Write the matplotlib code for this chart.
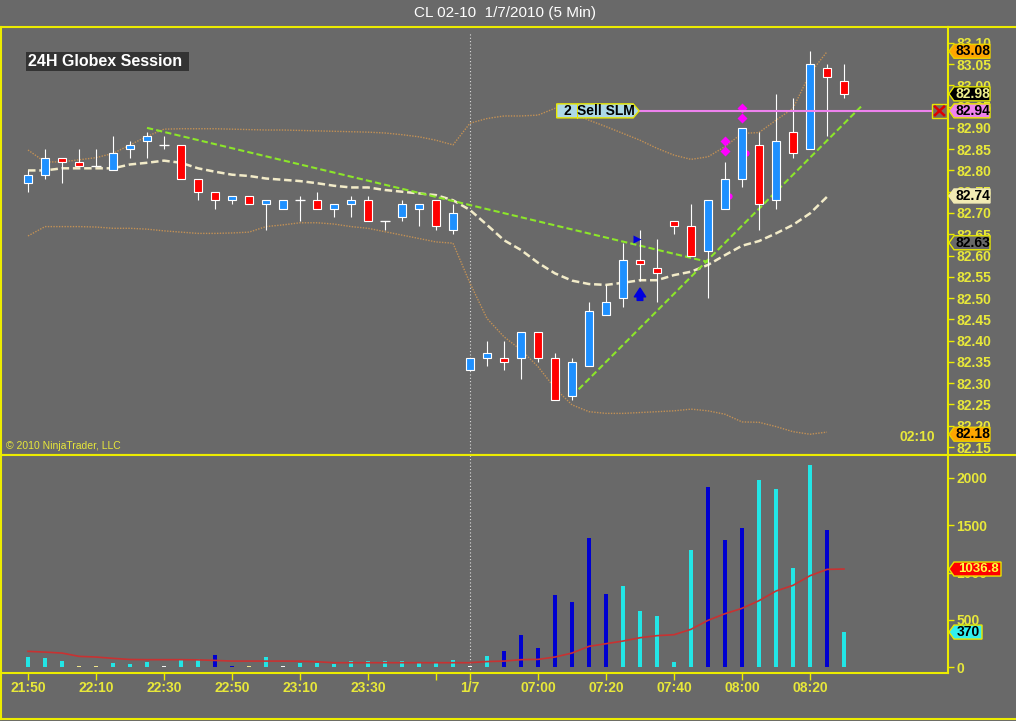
import numpy as np
import matplotlib
matplotlib.use('Agg')
import matplotlib.pyplot as plt
from matplotlib.patches import Polygon, Rectangle

plt.rcParams['font.family'] = ['Liberation Sans', 'DejaVu Sans']

# ---- data (5 min bars, CL 02-10) ----
open_ = [82.77, 82.79, 82.83, 82.82, 82.81, 82.80, 82.85, 82.87, 82.86, 82.86,
         82.78, 82.75, 82.73, 82.74, 82.72, 82.71, 82.73, 82.73, 82.71, 82.72,
         82.73, 82.68, 82.69, 82.71, 82.73, 82.66, 82.33, 82.36, 82.36, 82.36,
         82.42, 82.36, 82.27, 82.34, 82.46, 82.50, 82.59, 82.57, 82.68, 82.67,
         82.61, 82.71, 82.78, 82.86, 82.73, 82.89, 82.85, 83.04, 83.01]
high = [82.80, 82.85, 82.83, 82.85, 82.85, 82.88, 82.87, 82.89, 82.88, 82.86,
        82.78, 82.75, 82.74, 82.74, 82.73, 82.73, 82.74, 82.75, 82.72, 82.74,
        82.74, 82.68, 82.73, 82.72, 82.73, 82.72, 82.36, 82.40, 82.40, 82.42,
        82.42, 82.37, 82.36, 82.49, 82.53, 82.63, 82.66, 82.64, 82.68, 82.72,
        82.73, 82.82, 82.90, 82.89, 82.98, 82.97, 83.08, 83.05, 83.05]
low = [82.75, 82.78, 82.77, 82.81, 82.81, 82.80, 82.83, 82.83, 82.85, 82.78,
       82.73, 82.71, 82.72, 82.72, 82.66, 82.71, 82.68, 82.71, 82.69, 82.69,
       82.68, 82.66, 82.68, 82.67, 82.66, 82.65, 82.33, 82.34, 82.33, 82.31,
       82.35, 82.26, 82.26, 82.34, 82.46, 82.48, 82.54, 82.49, 82.65, 82.60,
       82.50, 82.71, 82.76, 82.66, 82.71, 82.83, 82.85, 82.88, 82.97]
close = [82.79, 82.83, 82.82, 82.81, 82.81, 82.84, 82.86, 82.88, 82.86, 82.78,
         82.75, 82.73, 82.74, 82.72, 82.73, 82.73, 82.73, 82.71, 82.72, 82.73,
         82.68, 82.68, 82.72, 82.72, 82.67, 82.70, 82.36, 82.37, 82.35, 82.42,
         82.36, 82.26, 82.35, 82.47, 82.49, 82.59, 82.58, 82.56, 82.67, 82.60,
         82.73, 82.78, 82.90, 82.72, 82.87, 82.84, 83.05, 83.02, 82.98]

sma = [82.800, 82.800, 82.805, 82.805, 82.805, 82.805, 82.814, 82.818, 82.823, 82.818,
       82.805, 82.797, 82.790, 82.787, 82.781, 82.778, 82.775, 82.770, 82.764, 82.760,
       82.760, 82.754, 82.750, 82.746, 82.742, 82.730, 82.707, 82.672, 82.636, 82.613,
       82.583, 82.558, 82.541, 82.533, 82.531, 82.536, 82.542, 82.542, 82.554, 82.562,
       82.578, 82.601, 82.623, 82.634, 82.652, 82.672, 82.699, 82.738]
upper_band = [82.848, 82.820, 82.820, 82.825, 82.830, 82.840, 82.860, 82.880, 82.897, 82.898,
              82.898, 82.898, 82.897, 82.896, 82.895, 82.895, 82.894, 82.893, 82.892, 82.891,
              82.890, 82.888, 82.884, 82.879, 82.871, 82.860, 82.911, 82.922, 82.928, 82.928,
              82.930, 82.946, 82.935, 82.918, 82.903, 82.887, 82.871, 82.852, 82.836, 82.826,
              82.832, 82.856, 82.887, 82.889, 82.918, 82.946, 83.028, 83.079]
lower_band = [82.646, 82.668, 82.668, 82.668, 82.667, 82.664, 82.664, 82.662, 82.658, 82.655,
              82.652, 82.652, 82.653, 82.655, 82.668, 82.672, 82.677, 82.677, 82.674, 82.668,
              82.664, 82.656, 82.648, 82.640, 82.632, 82.629, 82.535, 82.452, 82.409, 82.378,
              82.339, 82.288, 82.249, 82.233, 82.229, 82.229, 82.231, 82.233, 82.235, 82.239,
              82.235, 82.227, 82.209, 82.208, 82.198, 82.186, 82.180, 82.185]

volume = [102, 92, 63, 15, 15, 42, 32, 49, 12, 81,
          81, 123, 15, 15, 109, 10, 42, 42, 32, 63,
          63, 63, 63, 42, 49, 74, 15, 115, 173, 342,
          201, 765, 684, 1361, 772, 861, 596, 543, 49, 1234,
          1901, 1340, 1474, 1982, 1880, 1044, 2134, 1453, 370]
vol_kind = ['C', 'C', 'C', 'Y', 'Y', 'C', 'C', 'C', 'W', 'C',
            'C', 'B', 'B', 'Y', 'C', 'W', 'C', 'C', 'C', 'C',
            'C', 'C', 'C', 'C', 'C', 'C', 'W', 'C', 'B', 'B',
            'B', 'B', 'B', 'B', 'B', 'C', 'C', 'C', 'C', 'C',
            'B', 'B', 'B', 'C', 'C', 'C', 'C', 'B', 'C']
vol_sma = [166, 158, 148, 113, 106, 92, 80, 78, 78, 78,
           76, 70, 63, 63, 63, 63, 62, 56, 46, 46,
           46, 46, 46, 46, 46, 46, 46, 58, 63, 78,
           81, 106, 148, 219, 247, 275, 310, 332, 342, 399,
           494, 564, 621, 702, 804, 864, 966, 1033, 1037]

tick_bars = [0, 4, 8, 12, 16, 20, 24, 26, 30, 34, 38, 42, 46]
tick_labels = ['21:50', '22:10', '22:30', '22:50', '23:10', '23:30', '', '1/7',
               '07:00', '07:20', '07:40', '08:00', '08:20']
session_break = 26

# trend lines drawn on the chart: (bar, price) pairs
trend_down = ([7, 40], [82.90, 82.585])
trend_up = ([32, 49], [82.27, 82.95])

order_price = 82.94
order_text = ('2', 'Sell SLM')

# execution markers
exec_pairs = [(41, 82.868, 82.846), (42, 82.946, 82.924)]
exec_dots = [(41.22, 82.74), (42.22, 82.84)]
entry_tri = (35.85, 82.64)
entry_arrow = (36, 82.488, 82.530)

price_flags = [(83.08, '83.08', '#FFA500', 'black', '#E8D000'),
               (82.98, '82.98', 'black', '#F0F08C', '#E8E800'),
               (82.94, '82.94', '#EE82EE', 'black', '#E8E800'),
               (82.74, '82.74', '#F2EBB4', 'black', '#F2EBB4'),
               (82.63, '82.63', '#696969', 'black', '#E8E800'),
               (82.18, '82.18', '#FFA500', 'black', '#E8D000')]
vol_flags = [(1036.8, '1036.8', '#FF0000', '#FFFF40', '#E8E800'),
             (370, '370', '#30F0F0', 'black', '#E8E800')]

# ---- styling ----
W, H = 1016, 721
BG = '#696969'
FRAME = '#ECEC00'
TXT = '#E8E83A'
UP = '#1E90FF'
DOWN = '#FF0000'
VCOL = {'C': '#22E6E6', 'B': '#0000D0', 'Y': '#F0E68C', 'W': '#F4F4F4'}

bars = np.arange(len(close))
o, c = np.array(open_), np.array(close)

fig = plt.figure(figsize=(W / 100, H / 100), dpi=100, facecolor=BG)

xl = ((1 - 28) / 17, (948 - 28) / 17)
p_lim = (82.1312, 83.1371)
v_lim = (-63, 2243)

ax_p = fig.add_axes([1 / W, 1 - 455 / H, 947 / W, 428 / H], facecolor=BG)
ax_v = fig.add_axes([1 / W, 1 - 673 / H, 947 / W, 218 / H], facecolor=BG)

for ax in (ax_p, ax_v):
    ax.set_xlim(*xl)
    for s in ax.spines.values():
        s.set_color(FRAME)
        s.set_linewidth(1.5)
    ax.yaxis.tick_right()
    ax.tick_params(axis='y', direction='out', length=4, width=1, color=FRAME,
                   labelcolor=TXT, labelsize=10, pad=2)
    ax.axvline(session_break, color='#DCDCDC', lw=0.8, ls=(0, (1, 2)), zorder=1,
               ymax=0.985 if ax is ax_p else 1)

# ---- price panel ----
ax_p.set_ylim(*p_lim)
pticks = np.round(np.arange(82.15, 83.101, 0.05), 2)
ax_p.set_yticks(pticks)
ax_p.set_yticklabels([f'{t:.2f}' for t in pticks], fontweight='bold')
ax_p.tick_params(axis='x', bottom=False, labelbottom=False)

ax_p.plot(bars[:len(upper_band)], upper_band, color='#C39155', lw=1.0, ls=(0, (1, 1)), zorder=2)
ax_p.plot(bars[:len(lower_band)], lower_band, color='#C39155', lw=1.0, ls=(0, (1, 1)), zorder=2)
ax_p.plot(bars[:len(sma)], sma, color='#F2EBC8', lw=1.8, dashes=(3, 1.5), zorder=2)

ax_p.plot(*trend_down, color='#8CE62A', lw=1.5, dashes=(3, 1.5), zorder=2.5)
ax_p.plot(*trend_up, color='#8CE62A', lw=1.5, dashes=(3, 1.5), zorder=2.5)

body_col = np.where(c > o, UP, np.where(c < o, DOWN, UP))
ax_p.vlines(bars, low, high, color='white', lw=0.8, zorder=3)
for x, y in exec_dots:
    ax_p.plot(x, y, 'o', color='#FF00FF', ms=4.5, mec='none', zorder=3.5)
ax_p.bar(bars, np.abs(c - o), bottom=np.minimum(o, c), width=0.46, color=body_col,
         edgecolor='white', linewidth=0.8, zorder=4)
doji = c == o
ax_p.hlines(c[doji], bars[doji] - 0.3, bars[doji] + 0.3, color='white', lw=0.9, zorder=4)

for x, y1, y2 in exec_pairs:
    ax_p.plot([x, x], [y1, y2], 'D', color='#FF00FF', ms=5, mec='none', zorder=5)
ax_p.plot(*entry_tri, '>', color='#0000E0', ms=6, mec='none', zorder=5)
ax_p.annotate('', xy=(entry_arrow[0], entry_arrow[2]), xytext=(entry_arrow[0], entry_arrow[1]),
              arrowprops=dict(arrowstyle='simple,head_width=0.9,head_length=0.7,tail_width=0.45',
                              color='#0000E0', mutation_scale=9), zorder=5)

# order line with its label
hh = 7 * (p_lim[1] - p_lim[0]) / 428
lab_l, lab_r, lab_tip, lab_div = 31.1, 35.6, 35.95, 32.3
ax_p.hlines(order_price, lab_tip, xl[1], color='#EE82EE', lw=1.5, zorder=5)
ax_p.add_patch(Polygon([(lab_l, order_price + hh), (lab_r, order_price + hh),
                        (lab_tip, order_price), (lab_r, order_price - hh),
                        (lab_l, order_price - hh)], closed=True, fc='#ADD8E6',
                       ec='#E8E800', lw=1, zorder=6))
ax_p.plot([lab_div, lab_div], [order_price - hh, order_price + hh], color='#E8E800', lw=0.8, zorder=6)
ax_p.text((lab_l + lab_div) / 2, order_price, order_text[0], fontsize=10, fontweight='bold',
          ha='center', va='center', zorder=7)
ax_p.text((lab_div + lab_r) / 2 + 0.05, order_price, order_text[1], fontsize=10,
          fontweight='bold', ha='center', va='center', zorder=7)

# ---- volume panel ----
ax_v.set_ylim(*v_lim)
ax_v.bar(bars, volume, width=0.18, color=[VCOL[k] for k in vol_kind], lw=0, zorder=3)
ax_v.plot(bars, vol_sma, color='#C83232', lw=1.2, zorder=4)
ax_v.set_yticks([0, 500, 1000, 1500, 2000])
ax_v.set_yticklabels(['0', '500', '1000', '1500', '2000'], fontweight='bold')
ax_v.set_xticks(tick_bars)
ax_v.set_xticklabels(tick_labels, fontweight='bold')
ax_v.tick_params(axis='x', direction='out', length=5, width=1, color=FRAME,
                 labelcolor=TXT, labelsize=10, pad=1)


# ---- right side value flags ----
def add_flag(ax, y, text, fc, tc, ec, half, right, size=10):
    pts = [(1, y), (6, y + half), (right, y + half), (right, y - half), (6, y - half)]
    ax.add_patch(Polygon(pts, closed=True, fc=fc, ec=ec, lw=1, clip_on=False, zorder=5))
    ax.text((6 + right) / 2 + 0.5, y, text, color=tc, fontsize=size, fontweight='bold',
            ha='center', va='center', zorder=6, clip_on=False)


ax_pr = fig.add_axes([948 / W, 1 - 455 / H, 68 / W, 428 / H])
ax_pr.set_xlim(0, 68)
ax_pr.set_ylim(*p_lim)
ax_pr.axis('off')
for y, t, fc, tc, ec in price_flags:
    add_flag(ax_pr, y, t, fc, tc, ec, hh, 42)

# cancel box at the end of the order line
ax_pr.add_patch(Rectangle((-16, order_price - hh), 15, 2 * hh, fc='#7A6A5A', ec='#E8E800',
                          lw=1, clip_on=False, zorder=5))
ax_pr.plot([-13, -4], [order_price - 0.6 * hh, order_price + 0.6 * hh], color='#E00000',
           lw=1.8, clip_on=False, zorder=6)
ax_pr.plot([-13, -4], [order_price + 0.6 * hh, order_price - 0.6 * hh], color='#E00000',
           lw=1.8, clip_on=False, zorder=6)

ax_vr = fig.add_axes([948 / W, 1 - 673 / H, 68 / W, 218 / H])
ax_vr.set_xlim(0, 68)
ax_vr.set_ylim(*v_lim)
ax_vr.axis('off')
vh = 7 * (v_lim[1] - v_lim[0]) / 218
add_flag(ax_vr, vol_flags[0][0], *vol_flags[0][1:], vh, 53, size=9.5)
add_flag(ax_vr, vol_flags[1][0], *vol_flags[1][1:], vh, 34)

# ---- frame and texts ----
ax_bg = fig.add_axes([0, 0, 1, 1])
ax_bg.set_xlim(0, W)
ax_bg.set_ylim(H, 0)
ax_bg.axis('off')
ax_bg.patch.set_alpha(0)
for xs, ys in [([948, W], [27, 27]), ([948, W], [455, 455]), ([0, W], [719, 719]),
               ([1, 1], [673, 719])]:
    ax_bg.plot(xs, ys, color=FRAME, lw=1.5)

ax_bg.text(505, 13, 'CL 02-10  1/7/2010 (5 Min)', color='white', fontsize=11,
           ha='center', va='center')
ax_bg.text(28, 61.5, '24H Globex Session ', color='white', fontsize=11.5, fontweight='bold',
           ha='left', va='center',
           bbox=dict(boxstyle='square,pad=0.12', fc='#333333', ec='none'))
ax_bg.text(6, 446, '\u00a9 2010 NinjaTrader, LLC', color=TXT, fontsize=7.5,
           ha='left', va='center')
ax_bg.text(917, 437, '02:10', color=TXT, fontsize=10, fontweight='bold',
           ha='center', va='center')

fig.savefig('out.png', dpi=100, facecolor=BG)
